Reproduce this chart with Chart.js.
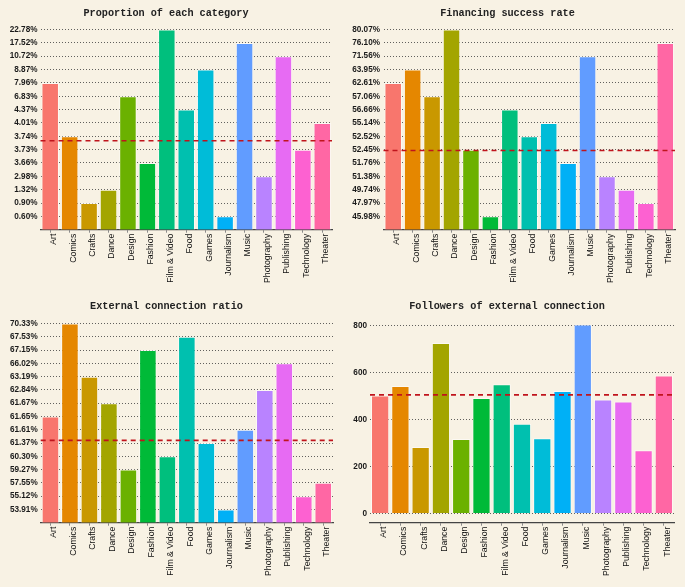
<!DOCTYPE html>
<html>
<head>
<meta charset="utf-8">
<script src="https://cdn.jsdelivr.net/npm/chart.js@4.4.1/dist/chart.umd.min.js"></script>
<style>
  html, body { margin: 0; padding: 0; background: #F8F2E4; }
  #wrap { position: relative; width: 685px; height: 587px; overflow: hidden; }
  .panel { position: absolute; }
</style>
</head>
<body>
<div id="wrap">
  <div class="panel" style="left:0;top:0;width:340px;height:290px"><canvas id="c1"></canvas></div>
  <div class="panel" style="left:340px;top:0;width:345px;height:290px"><canvas id="c2"></canvas></div>
  <div class="panel" style="left:0;top:290px;width:340px;height:297px"><canvas id="c3"></canvas></div>
  <div class="panel" style="left:340px;top:290px;width:345px;height:297px"><canvas id="c4"></canvas></div>
</div>
<script>
const categories = ['Art', 'Comics', 'Crafts', 'Dance', 'Design', 'Fashion', 'Film & Video', 'Food',
  'Games', 'Journalism', 'Music', 'Photography', 'Publishing', 'Technology', 'Theater'];

const barColors = ['#F8766D', '#E58700', '#C99800', '#A3A500', '#6BB100', '#00BA38', '#00BF7D', '#00C0AF',
  '#00BCD8', '#00B0F6', '#619CFF', '#B983FF', '#E76BF3', '#FD61D1', '#FF67A4'];

// proportion of each category (%)
const shareValues = [7.96, 3.74, 0.90, 1.32, 6.83, 3.66, 22.78, 4.37, 8.87, 0.60, 17.52, 2.98, 10.72, 3.73, 4.01];
const shareTicks = ['0.60%', '0.90%', '1.32%', '2.98%', '3.66%', '3.73%', '3.74%', '4.01%', '4.37%',
  '6.83%', '7.96%', '8.87%', '10.72%', '17.52%', '22.78%'];
const shareMean = 6.67;

// financing success rate (%)
const successValues = [62.61, 63.95, 57.06, 80.07, 52.45, 45.98, 56.66, 52.52, 55.14, 51.76, 71.56, 51.38, 49.74, 47.97, 76.10];
const successTicks = ['45.98%', '47.97%', '49.74%', '51.38%', '51.76%', '52.45%', '52.52%', '55.14%',
  '56.66%', '57.06%', '62.61%', '63.95%', '71.56%', '76.10%', '80.07%'];
const successMean = 5.93;

// external connection ratio (%)
const externalValues = [61.65, 70.33, 63.19, 61.67, 59.27, 67.15, 60.30, 67.53, 61.37, 53.91, 61.61, 62.84, 66.02, 55.12, 57.55];
const externalTicks = ['53.91%', '55.12%', '57.55%', '59.27%', '60.30%', '61.37%', '61.61%', '61.65%',
  '61.67%', '62.84%', '63.19%', '66.02%', '67.15%', '67.53%', '70.33%'];
const externalMean = 6.2;

// followers of external connection
const followerValues = [501, 542, 282, 725, 316, 490, 549, 381, 319, 520, 803, 484, 476, 268, 586];
const followerTicks = [0, 200, 400, 600, 800];
const followerMean = 504;

const pct = v => v.toFixed(2) + '%';

const meanLine = {
  id: 'meanLine',
  afterDatasetsDraw(chart, args, opts) {
    const { ctx, chartArea, scales } = chart;
    const y = scales.y.getPixelForValue(opts.value);
    ctx.save();
    ctx.strokeStyle = '#C0141C';
    ctx.lineWidth = 1.6;
    ctx.setLineDash([5, 4]);
    ctx.beginPath();
    ctx.moveTo(chartArea.left, y);
    ctx.lineTo(chartArea.right, y);
    ctx.stroke();
    ctx.restore();
  }
};

function drawPanel(id, p) {
  new Chart(document.getElementById(id), {
    type: 'bar',
    data: {
      labels: categories,
      datasets: [{
        data: p.data,
        backgroundColor: barColors,
        borderColor: 'rgba(255,255,255,0.55)',
        borderWidth: 1,
        barPercentage: 0.9,
        categoryPercentage: 1
      }]
    },
    plugins: [meanLine],
    options: {
      responsive: true,
      maintainAspectRatio: false,
      animation: false,
      layout: { padding: { left: 0, right: p.padRight, top: 0, bottom: 0 } },
      plugins: {
        legend: { display: false },
        tooltip: { enabled: false },
        meanLine: { value: p.mean },
        title: {
          display: true,
          text: p.title,
          color: '#222',
          font: { family: '"Liberation Mono", "Courier New", monospace', size: 10.2, weight: 'bold' },
          padding: { top: p.titleTop, bottom: p.titleBottom }
        }
      },
      scales: {
        x: {
          type: 'category',
          grid: { display: true, drawOnChartArea: false, drawTicks: true, tickLength: 3, color: '#8a8a8a', offset: false },
          border: { display: true, color: '#444', width: 1.3 },
          ticks: {
            autoSkip: false, maxRotation: 90, minRotation: 90, padding: 1, labelOffset: 3.5, color: '#111',
            font: { family: '"Liberation Sans", Arial, sans-serif', size: 8.7 }
          },
          afterFit: s => { s.height = p.xHeight; }
        },
        y: {
          type: 'linear',
          min: p.min,
          max: p.max,
          grid: { color: '#3a3a3a', lineWidth: 0.8, drawTicks: false },
          border: { display: false, dash: [1, 2] },
          ticks: {
            padding: p.labelPad, color: '#1a1a1a',
            font: { family: '"Liberation Sans", Arial, sans-serif', size: 8.2, weight: 'bold' },
            callback: p.tickText
          },
          afterBuildTicks: s => { s.ticks = p.ticks.map(v => ({ value: v })); },
          afterFit: s => { s.width = p.yWidth; }
        }
      }
    }
  });
}

// discrete y axis: each bar height is the position of its value among the tick labels
const levels = (values, ticks) => values.map(v => ticks.indexOf(pct(v)) + 1);
const levelTicks = ticks => ticks.map((t, i) => i + 1);

drawPanel('c1', {
  title: 'Proportion of each category',
  data: levels(shareValues, shareTicks),
  ticks: levelTicks(shareTicks),
  tickText: v => shareTicks[v - 1],
  mean: shareMean, min: 0, max: 15.6,
  yWidth: 40.5, xHeight: 60.3, padRight: 8, labelPad: 3, titleTop: 7, titleBottom: 2.3
});

drawPanel('c2', {
  title: 'Financing success rate',
  data: levels(successValues, successTicks),
  ticks: levelTicks(successTicks),
  tickText: v => successTicks[v - 1],
  mean: successMean, min: 0, max: 15.6,
  yWidth: 43.5, xHeight: 60.3, padRight: 10, labelPad: 3.5, titleTop: 7, titleBottom: 2.3
});

drawPanel('c3', {
  title: 'External connection ratio',
  data: levels(externalValues, externalTicks),
  ticks: levelTicks(externalTicks),
  tickText: v => externalTicks[v - 1],
  mean: externalMean, min: 0, max: 15.6,
  yWidth: 40.7, xHeight: 64.3, padRight: 7, labelPad: 3, titleTop: 10, titleBottom: 3.3
});

drawPanel('c4', {
  title: 'Followers of external connection',
  data: followerValues,
  ticks: followerTicks,
  tickText: v => String(v),
  mean: followerMean, min: -40, max: 843,
  yWidth: 30, xHeight: 64.3, padRight: 11, labelPad: 3, titleTop: 10, titleBottom: 2.9
});
</script>
</body>
</html>
